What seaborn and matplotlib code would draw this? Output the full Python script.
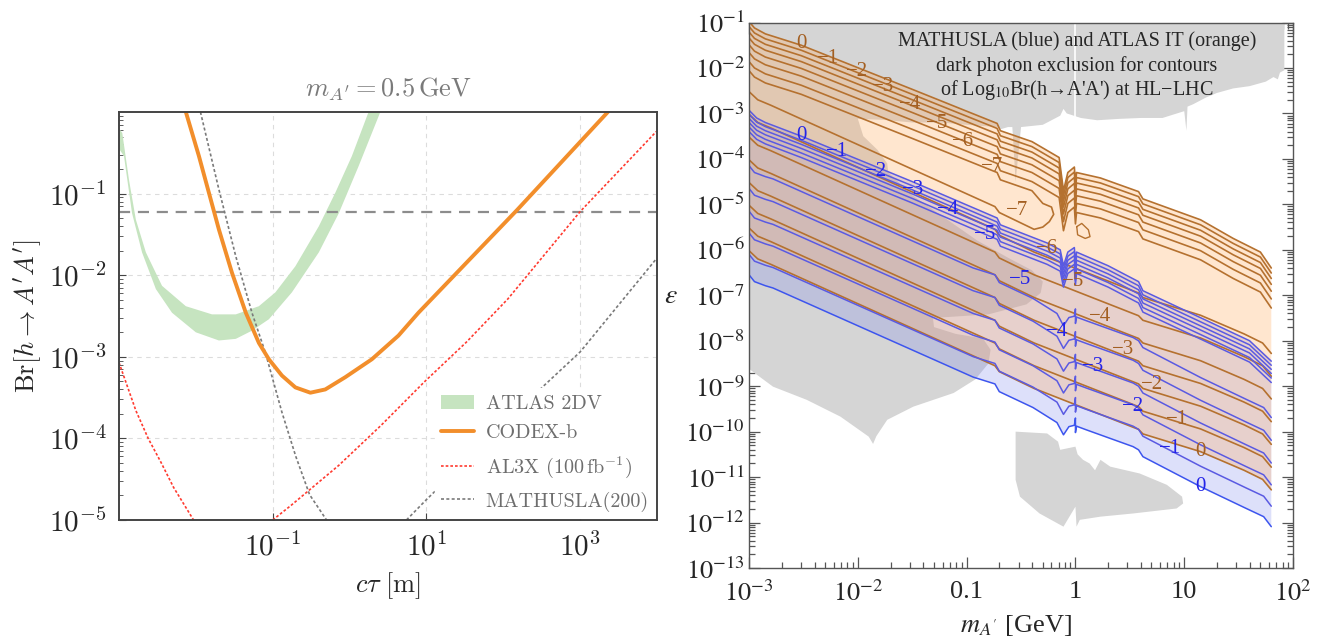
import numpy as np
import matplotlib
matplotlib.use("Agg")
import matplotlib.pyplot as plt
from matplotlib.ticker import LogLocator, NullLocator, NullFormatter
from matplotlib.patches import Patch
from matplotlib.lines import Line2D
import seaborn as sns

sns.set_style("white")
plt.rcParams["mathtext.fontset"] = "cm"
plt.rcParams["font.family"] = ["Liberation Serif", "DejaVu Serif"]

# ---------------- left panel (log10 c*tau [m], log10 Br) ----------------
atlas_in_lx = [-3.0, -2.957, -2.87, -2.78, -2.65, -2.44, -2.13, -1.79, -1.48, -1.18, -0.965, -0.705,
               -0.40, -0.186, 0.03, 0.247]
atlas_in_ly = [-0.20, -0.258, -0.83, -1.32, -1.72, -2.13, -2.38, -2.48, -2.48, -2.38, -2.21, -1.89,
               -1.40, -0.99, -0.54, 0.0]
atlas_out_lx = [-3.0, -2.935, -2.83, -2.70, -2.52, -2.31, -2.0, -1.70, -1.48, -1.27, -1.05, -0.75,
                -0.40, -0.14, 0.117, 0.40]
atlas_out_ly = [-0.45, -0.54, -1.24, -1.72, -2.17, -2.46, -2.70, -2.80, -2.78, -2.68, -2.54, -2.21,
                -1.72, -1.24, -0.665, 0.0]

codex_lx = [-2.13, -1.96, -1.83, -1.70, -1.53, -1.35, -1.18, -1.05, -0.88, -0.705, -0.51, -0.316,
            -0.056, 0.29, 0.636, 0.896, 2.18, 3.36]
codex_ly = [0.0, -0.54, -0.99, -1.44, -1.97, -2.46, -2.83, -3.03, -3.23, -3.375, -3.44, -3.40,
            -3.25, -3.03, -2.74, -2.46, -1.20, 0.0]

al3x_a_lx = [-3.0, -2.78, -2.62, -2.45, -2.29, -2.03]
al3x_a_ly = [-3.07, -3.66, -4.0, -4.3, -4.6, -5.0]
al3x_b_lx = [-1.0, -0.76, -0.52, -0.14, 0.41, 0.97, 1.52, 2.06, 3.0, 3.99]
al3x_b_ly = [-5.0, -4.82, -4.63, -4.33, -3.84, -3.31, -2.82, -2.29, -1.22, -0.24]

math_a_lx = [-1.94, -1.70, -1.48, -1.27, -1.095, -0.88, -0.70, -0.52, -0.30]
math_a_ly = [0.0, -0.95, -1.77, -2.46, -2.95, -3.68, -4.22, -4.69, -5.0]
math_b_lx = [0.74, 1.0, 2.51, 3.0, 3.99]
math_b_ly = [-5.0, -4.75, -3.37, -2.94, -1.80]

br_ref = 0.06

# ---------------- right panel (log10 m [GeV], log10 eps) ----------------
# orange (ATLAS IT) upper branch, contour 0, and offsets of contours 0..-7
ou_u = [-3.0, -2.95, -2.85, -2.52, -1.5, -0.72, -0.69, -0.40, -0.15, -0.11, -0.07, -0.01, 0.0, 0.01,
        0.23, 0.58, 0.62, 1.15, 1.45, 1.70, 1.80]
ou_v = [-0.98, -1.12, -1.25, -1.50, -2.47, -3.22, -3.38, -3.62, -3.97, -4.70, -4.30, -4.18, -4.55, -4.30,
        -4.42, -4.72, -4.88, -5.34, -5.75, -6.05, -6.40]
ou_off = [0.0, 0.11, 0.23, 0.36, 0.51, 0.68, 0.88, 1.08]

# orange lower branch, contour 0, offsets of contours 0..-7
ol_u = [-3.0, -2.92, -2.80, -0.74, -0.70, -0.38, 0.58, 0.62, 1.15, 1.55, 1.72, 1.80]
ol_v = [-6.02, -6.20, -6.32, -8.55, -8.68, -9.05, -9.95, -10.05, -10.44, -10.85, -11.05, -11.28]
ol_off = [0.0, 0.5, 1.0, 1.5, 2.0, 2.5, 3.0, 3.5]

# the -7 contour closes near 0.6 GeV
loop7_u = [-0.30, -0.22, -0.20, -0.24, -0.30]
loop7_v = [-4.98, -5.06, -5.22, -5.38, -5.50]
island_u = [0.012, 0.058, 0.119, 0.134, 0.09, 0.02, 0.012]
island_v = [-5.49, -5.42, -5.56, -5.71, -5.75, -5.67, -5.49]

# blue (MATHUSLA) upper branch, contour 0, offsets 0..-5
bu_u = [-3.0, -2.93, -2.85, -2.52, -1.5, -0.72, -0.69, -0.26, -0.14, -0.11, -0.07, -0.01, 0.0, 0.01,
        0.30, 0.58, 0.62, 1.20, 1.60, 1.80]
bu_v = [-2.93, -3.10, -3.20, -3.50, -4.50, -5.30, -5.45, -5.85, -6.00, -6.35, -6.05, -5.95, -6.30, -6.05,
        -6.35, -6.70, -6.90, -7.55, -8.00, -8.45]
bu_off = [0.0, 0.09, 0.18, 0.27, 0.37, 0.47]

# blue lower branch, contour 0, offsets 0..-5
bl_u = [-3.0, -2.95, -2.85, -2.78, -0.94, -0.74, -0.70, -0.39, -0.17, -0.11, -0.06, -0.01, 0.0, 0.0, 0.01,
        0.10, 0.53, 0.58, 0.62, 1.15, 1.57, 1.73, 1.80]
bl_v = [-6.55, -6.70, -6.79, -6.84, -8.80, -8.95, -9.12, -9.47, -9.80, -10.07, -9.89, -9.86, -9.70, -10.02,
        -9.88, -9.96, -10.33, -10.40, -10.55, -11.21, -11.69, -11.87, -12.09]
bl_off = [0.0, 0.45, 0.92, 1.40, 1.90, 2.40]

# existing limits (gray)
gray_a_u = [-3.0, 1.92, 1.92, 1.88, 1.86, 1.82, 1.75, 1.6, 1.45, 1.3, 1.2, 1.08, 1.03, 1.02, 1.0, 0.8,
            0.6, 0.4, 0.2, 0.05, -0.08, -0.11, -0.14, -0.3, -0.5, -0.55, -0.58, -0.62, -0.69, -0.72,
            -1.0, -1.24, -1.5, -1.77, -2.0, -1.95, -1.82, -1.73, -1.72, -1.5, -1.2, -0.9, -0.6, -0.4,
            -0.3, -0.32, -0.45, -0.8, -1.31, -1.3, -1.1, -0.85, -0.78, -0.80, -0.92, -1.12, -1.49,
            -1.73, -1.83, -1.86, -1.90, -2.16, -2.47, -2.78, -3.0]
gray_a_v = [-1.0, -1.0, -2.05, -2.1, -2.25, -2.2, -2.3, -2.4, -2.45, -2.55, -2.65, -2.8, -2.85, -3.38,
            -2.95, -3.1, -3.1, -3.12, -3.15, -3.1, -3.0, -2.9, -3.05, -3.25, -3.3, -4.5, -3.3, -3.3,
            -3.35, -3.3, -3.25, -3.2, -3.2, -3.14, -3.12, -3.5, -3.8, -4.1, -4.3, -4.8, -5.3, -5.8,
            -6.2, -6.45, -6.7, -6.95, -7.2, -7.42, -7.5, -7.7, -7.85, -7.95, -8.2, -8.5, -8.85, -9.15,
            -9.45, -9.74, -10.1, -10.27, -10.11, -9.67, -9.30, -9.01, -8.62]
gray_c_u = [-0.55, -0.26, -0.16, -0.14, -0.08, 0.0, 0.02, 0.07, 0.13, 0.18, 0.23, 0.32, 0.59, 0.84,
            0.98, 0.99, 0.93, 0.53, 0.23, 0.04, 0.01, 0.0, -0.11, -0.33, -0.51, -0.55]
gray_c_v = [-10.0, -10.04, -10.22, -10.4, -10.37, -10.33, -10.5, -10.62, -10.70, -10.85, -10.62, -10.77,
            -10.92, -11.17, -11.43, -11.58, -11.69, -11.80, -11.87, -11.94, -12.09, -11.65, -12.09,
            -11.80, -11.43, -11.06]

# contour labels
ou_lab_u = [-2.52, -2.27, -2.01, -1.77, -1.52, -1.27, -1.03, -0.77, -0.54]
ou_lab_v = [-1.46, -1.79, -2.08, -2.41, -2.81, -3.22, -3.62, -4.17, -5.14]
ou_lab_t = ["0", "−1", "−2", "−3", "−4", "−5", "−6", "−7", "−7"]
ol_lab_u = [-0.26, -0.02, 0.23, 0.44, 0.70, 0.93, 1.15]
ol_lab_v = [-5.97, -6.70, -7.47, -8.20, -8.97, -9.74, -10.44]
ol_lab_t = ["−6", "−5", "−4", "−3", "−2", "−1", "0"]
bu_lab_u = [-2.52, -2.19, -1.83, -1.49, -1.17, -0.83]
bu_lab_v = [-3.48, -3.84, -4.28, -4.68, -5.12, -5.67]
bu_lab_t = ["0", "−1", "−2", "−3", "−4", "−5"]
bl_lab_u = [-0.51, -0.17, 0.16, 0.53, 0.87, 1.15]
bl_lab_v = [-6.66, -7.80, -8.57, -9.45, -10.37, -11.21]
bl_lab_t = ["−5", "−4", "−3", "−2", "−1", "0"]

GREEN = "#c6e4c0"
ORANGE = "#f28e2b"
RED = "#ff3b30"
GRAYL = "#7a7a7a"
BROWN = "#b5712f"
BLUE = "#5a5ae2"
GRAYFILL = "#d5d5d5"


def p10(a):
    return 10.0 ** np.asarray(a, dtype=float)


def line(ax, u, v, color, lw, **kw):
    sns.lineplot(x=p10(u), y=p10(v), sort=False, estimator=None, color=color,
                 lw=lw, ax=ax, legend=False, **kw)


fig = plt.figure(figsize=(13.22, 6.43), dpi=100)
axL = fig.add_axes([0.0900, 0.1913, 0.4070, 0.6345])
axR = fig.add_axes([0.5666, 0.1166, 0.4115, 0.8484])

# ======================= left panel =======================
axL.set_xscale("log")
axL.set_yscale("log")

band_x = np.r_[p10(atlas_in_lx), p10(atlas_out_lx)[::-1]]
band_y = np.r_[p10(atlas_in_ly), p10(atlas_out_ly)[::-1]]
axL.fill(band_x, band_y, color=GREEN, lw=0, zorder=2)

line(axL, codex_lx, codex_ly, ORANGE, 2.8, zorder=4)
line(axL, al3x_a_lx, al3x_a_ly, RED, 1.2, linestyle=(0, (1.6, 1.2)), zorder=3)
line(axL, al3x_b_lx, al3x_b_ly, RED, 1.2, linestyle=(0, (1.6, 1.2)), zorder=3)
line(axL, math_a_lx, math_a_ly, GRAYL, 1.2, linestyle=(0, (1.8, 1.4)), zorder=3)
line(axL, math_b_lx, math_b_ly, GRAYL, 1.2, linestyle=(0, (1.8, 1.4)), zorder=3)
axL.axhline(br_ref, color="#8c8c8c", lw=1.6, dashes=(5, 3.5), zorder=2)

axL.set_xlim(1e-3, 1e4)
axL.set_ylim(1e-5, 1)
axL.set_xticks([1e-1, 1e1, 1e3])
axL.set_xticklabels([r"$10^{-1}$", r"$10^{1}$", r"$10^{3}$"], fontsize=21)
axL.xaxis.set_minor_locator(NullLocator())
axL.set_yticks([1e-5, 1e-4, 1e-3, 1e-2, 1e-1])
axL.set_yticklabels([r"$10^{-5}$", r"$10^{-4}$", r"$10^{-3}$", r"$10^{-2}$", r"$10^{-1}$"], fontsize=21)
axL.yaxis.set_minor_locator(LogLocator(base=10, subs=np.arange(2, 10), numticks=50))
axL.yaxis.set_minor_formatter(NullFormatter())
axL.tick_params(which="both", direction="in", left=True, bottom=True, top=False, right=False,
                color="#444444")
axL.tick_params(which="major", length=5, pad=9)
axL.tick_params(which="minor", length=3)
axL.grid(True, which="major", color="#dcdcdc", lw=0.8, ls=(0, (4, 4)), zorder=0)
for s in axL.spines.values():
    s.set_color("#444444")
    s.set_linewidth(1.4)
    s.set_zorder(8)

axL.text(0.5, 1.055, r"$m_{A'} = 0.5\,\mathrm{GeV}$", transform=axL.transAxes, ha="center",
         va="center", fontsize=19, color="#7a7a7a")
axL.set_xlabel(r"$c\tau\ [\mathrm{m}]$", fontsize=19)
axL.xaxis.set_label_coords(0.5, -0.122)
axL.set_ylabel(r"$\mathrm{Br}[h \rightarrow A'A']$", fontsize=19)
axL.yaxis.set_label_coords(-0.14, 0.5)

handles = [Patch(facecolor=GREEN, edgecolor="none"),
           Line2D([], [], color=ORANGE, lw=2.8),
           Line2D([], [], color=RED, lw=1.2, linestyle=(0, (1.6, 1.2))),
           Line2D([], [], color=GRAYL, lw=1.2, linestyle=(0, (1.8, 1.4)))]
labels = ["ATLAS 2DV", "CODEX-b", r"AL3X $(100\,\mathrm{fb}^{-1})$", "MATHUSLA(200)"]
leg = axL.legend(handles, labels, loc="lower right", bbox_to_anchor=(0.996, 0.006), borderaxespad=0.0,
                 frameon=True, framealpha=1, edgecolor="white", fancybox=False,
                 handlelength=1.6, handletextpad=0.6, labelspacing=0.58, borderpad=0.3,
                 prop={"family": "cmr10", "size": 14.5})
leg.set_zorder(6)
for t in leg.get_texts():
    t.set_color("#6e6e6e")

# ======================= right panel =======================
axR.set_xscale("log")
axR.set_yscale("log")

axR.fill(p10(gray_a_u), p10(gray_a_v), color=GRAYFILL, lw=0, zorder=1)
axR.fill(p10(gray_c_u), p10(gray_c_v), color=GRAYFILL, lw=0, zorder=1)
axR.plot([1.0, 1.0], [1e-1, 10 ** -3.1], color="white", lw=1.2, zorder=1.5)

blue_x = np.r_[p10(bu_u), p10(bl_u)[::-1]]
blue_y = np.r_[p10(bu_v), p10(bl_v)[::-1]]
axR.fill(blue_x, blue_y, color="#7a86ee", alpha=0.25, lw=0, zorder=2)
orange_x = np.r_[p10(ou_u), p10(ol_u)[::-1]]
orange_y = np.r_[p10(ou_v), p10(ol_v)[::-1]]
axR.fill(orange_x, orange_y, color="#ffad62", alpha=0.3, lw=0, zorder=3)

ou_u_a, ou_v_a = np.array(ou_u), np.array(ou_v)
ol_u_a, ol_v_a = np.array(ol_u), np.array(ol_v)
for off in ou_off[:-1]:
    line(axR, ou_u_a, ou_v_a - off, BROWN, 1.2, zorder=4)
for off in ol_off[:-1]:
    line(axR, ol_u_a, ol_v_a + off, BROWN, 1.2, zorder=4)
m_up = ou_u_a < -0.35
m_lo = ol_u_a < -0.35
loop_u = np.r_[ou_u_a[m_up], loop7_u, ol_u_a[m_lo][::-1]]
loop_v = np.r_[ou_v_a[m_up] - ou_off[-1], loop7_v, ol_v_a[m_lo][::-1] + ol_off[-1]]
line(axR, loop_u, loop_v, BROWN, 1.2, zorder=4)
line(axR, island_u, island_v, BROWN, 1.0, zorder=4)

bu_u_a, bu_v_a = np.array(bu_u), np.array(bu_v)
bl_u_a, bl_v_a = np.array(bl_u), np.array(bl_v)
for off in bu_off:
    line(axR, bu_u_a, bu_v_a - off, BLUE, 1.1, zorder=5)
for i, off in enumerate(bl_off):
    line(axR, bl_u_a, bl_v_a + off, "#3d55ee" if i == 0 else BLUE, 1.1, zorder=5)

lab_kw = dict(ha="center", va="center", fontsize=15, family="Liberation Serif", zorder=7)
for u, v, t in zip(ou_lab_u + ol_lab_u, ou_lab_v + ol_lab_v, ou_lab_t + ol_lab_t):
    axR.text(10 ** u, 10 ** v, t, color="#a35f22", **lab_kw)
for u, v, t in zip(bu_lab_u + bl_lab_u, bu_lab_v + bl_lab_v, bu_lab_t + bl_lab_t):
    axR.text(10 ** u, 10 ** v, t, color="#2323e8", **lab_kw)

axR.set_xlim(1e-3, 1e2)
axR.set_ylim(1e-13, 1e-1)
axR.set_xticks([1e-3, 1e-2, 1e-1, 1, 10, 100])
axR.set_xticklabels([r"$10^{-3}$", r"$10^{-2}$", "0.1", "1", "10", r"$10^{2}$"], fontsize=19,
                    family="Liberation Serif", math_fontfamily="stix")
axR.set_yticks([10.0 ** -k for k in range(13, 0, -1)])
axR.set_yticklabels([r"$10^{-%d}$" % k for k in range(13, 0, -1)], fontsize=19,
                    family="Liberation Serif", math_fontfamily="stix")
axR.xaxis.set_minor_locator(LogLocator(base=10, subs=np.arange(2, 10), numticks=100))
axR.yaxis.set_minor_locator(LogLocator(base=10, subs=np.arange(2, 10), numticks=100))
axR.xaxis.set_minor_formatter(NullFormatter())
axR.yaxis.set_minor_formatter(NullFormatter())
axR.tick_params(which="both", direction="in", left=True, bottom=True, top=True, right=True,
                color="#555555", width=0.9)
axR.tick_params(which="major", length=8)
axR.tick_params(axis="y", which="major", pad=3)
axR.tick_params(axis="x", which="major", pad=9)
axR.tick_params(which="minor", length=4)
for s in axR.spines.values():
    s.set_color("#555555")
    s.set_linewidth(1.0)
    s.set_zorder(8)

title_kw = dict(transform=axR.transAxes, ha="center", va="center", fontsize=14.5,
                family="Liberation Serif", math_fontfamily="stix", zorder=8)
axR.text(0.603, 0.965, "MATHUSLA (blue) and ATLAS IT (orange)", **title_kw)
axR.text(0.603, 0.920, "dark photon exclusion for contours", **title_kw)
axR.text(0.603, 0.876, r"of Log$_{10}$Br(h→A'A') at HL−LHC", **title_kw)

axR.set_xlabel(r"$m_{A'}$ [GeV]", fontsize=19, family="Liberation Serif", math_fontfamily="stix")
axR.xaxis.set_label_coords(0.49, -0.083)
axR.set_ylabel(r"$\epsilon$", fontsize=20, rotation=0, va="center", math_fontfamily="stix")
axR.yaxis.set_label_coords(-0.143, 0.497)

fig.savefig("out.png", dpi=100)
